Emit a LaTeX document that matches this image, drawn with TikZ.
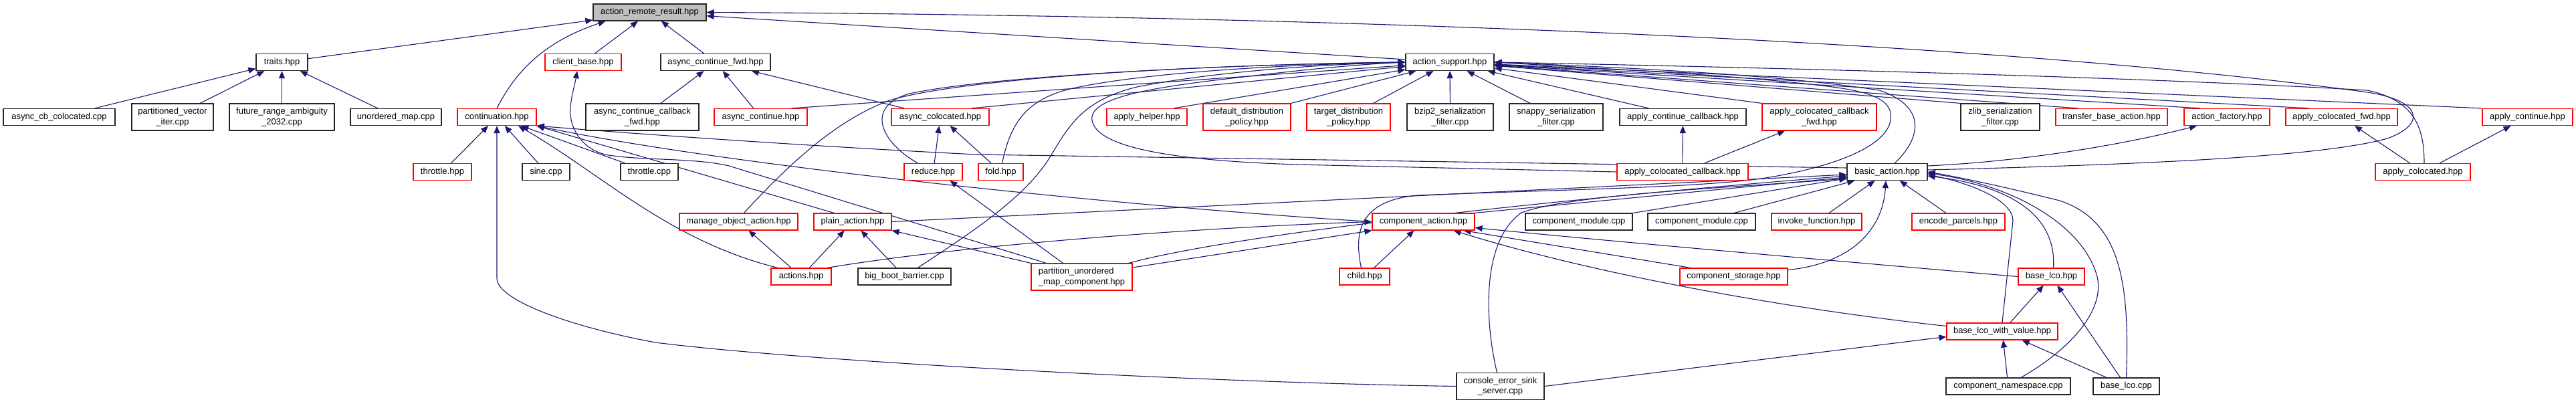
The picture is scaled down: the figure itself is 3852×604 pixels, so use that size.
\documentclass[tikz,border=0pt]{standalone}
\usepackage{fontspec}
\setmainfont{Liberation Sans}
\usetikzlibrary{arrows.meta}
\newcommand\nodefont{\fontsize{13}{15.5}\selectfont}
\definecolor{navy}{HTML}{191970}
\pgfdeclarelayer{bg}
\pgfsetlayers{bg,main}
\tikzset{
 nb/.style={draw=black!85, line width=1.2pt, rectangle, inner sep=0pt, minimum height=25pt, font=\nodefont, align=center, fill=white},
 rb/.style={nb, draw=red},
 two/.style={minimum height=40pt},
 edg/.style={draw=navy, line width=1.1pt, -{Triangle[length=11pt,width=9pt]}},
}
\begin{document}
\begin{tikzpicture}[x=1pt,y=-1pt]
\useasboundingbox (0,0) rectangle (3852,604);
% level 0
\node[nb, fill=black!25, minimum width=169pt] (arr) at (971.5,18.5) {action\_remote\_result.hpp};
% level 1
\node[nb, minimum width=77pt] (traits) at (421.5,93) {traits.hpp};
\node[rb, minimum width=114pt] (client) at (872,93) {client\_base.hpp};
\node[nb, minimum width=164pt] (acfwd) at (1070,93) {async\_continue\_fwd.hpp};
\node[nb, minimum width=132pt] (asup) at (2168,93) {action\_support.hpp};
% level 2
\node[nb, minimum width=167pt] (acbc) at (88.5,175) {async\_cb\_colocated.cpp};
\node[nb, two, minimum width=122pt] (pvi) at (258,175) {partitioned\_vector\\\_iter.cpp};
\node[nb, two, minimum width=157pt] (fra) at (421.5,175) {future\_range\_ambiguity\\\_2032.cpp};
\node[nb, minimum width=136pt] (umap) at (592,175) {unordered\_map.cpp};
\node[rb, minimum width=118pt] (cont) at (743,175) {continuation.hpp};
\node[nb, two, minimum width=169pt] (accfwd) at (960.5,175) {async\_continue\_callback\\\_fwd.hpp};
\node[rb, minimum width=139pt] (acont) at (1137.5,175) {async\_continue.hpp};
\node[rb, minimum width=146pt] (acol) at (1406,175) {async\_colocated.hpp};
\node[rb, minimum width=120pt] (ahelp) at (1715,175) {apply\_helper.hpp};
\node[rb, two, minimum width=131pt] (ddp) at (1864.5,175) {default\_distribution\\\_policy.hpp};
\node[rb, two, minimum width=125pt] (tdp) at (2016.5,175) {target\_distribution\\\_policy.hpp};
\node[nb, two, minimum width=129pt] (bzip) at (2168.5,175) {bzip2\_serialization\\\_filter.cpp};
\node[nb, two, minimum width=140pt] (snappy) at (2327,175) {snappy\_serialization\\\_filter.cpp};
\node[nb, minimum width=189pt] (acc) at (2516.5,175) {apply\_continue\_callback.hpp};
\node[rb, two, minimum width=171pt] (acocfwd) at (2720.5,175) {apply\_colocated\_callback\\\_fwd.hpp};
\node[nb, two, minimum width=118pt] (zlib) at (2991,175) {zlib\_serialization\\\_filter.cpp};
\node[rb, minimum width=167pt] (tba) at (3157.5,175) {transfer\_base\_action.hpp};
\node[rb, minimum width=128pt] (afact) at (3330,175) {action\_factory.hpp};
\node[rb, minimum width=167pt] (acofwd) at (3501.5,175) {apply\_colocated\_fwd.hpp};
\node[rb, minimum width=135pt] (apcont) at (3779.5,175) {apply\_continue.hpp};
% level 3
\node[rb, minimum width=87pt] (thhpp) at (661.5,257) {throttle.hpp};
\node[nb, minimum width=71pt] (sine) at (816.5,257) {sine.cpp};
\node[nb, minimum width=86pt] (thcpp) at (971,257) {throttle.cpp};
\node[rb, minimum width=87pt] (reduce) at (1395.5,257) {reduce.hpp};
\node[rb, minimum width=67pt] (fold) at (1496.5,257) {fold.hpp};
\node[rb, minimum width=196pt] (acoc) at (2516,257) {apply\_colocated\_callback.hpp};
\node[nb, minimum width=120pt] (bact) at (2822,257) {basic\_action.hpp};
\node[rb, minimum width=142pt] (apco) at (3623,257) {apply\_colocated.hpp};
% level 4
\node[rb, minimum width=177pt] (moa) at (1104.5,331.5) {manage\_object\_action.hpp};
\node[rb, minimum width=116pt] (plain) at (1275,331.5) {plain\_action.hpp};
\node[rb, minimum width=153pt] (compact) at (2128.5,331.5) {component\_action.hpp};
\node[nb, minimum width=160pt] (cm1) at (2361,331.5) {component\_module.cpp};
\node[nb, minimum width=161pt] (cm2) at (2544.5,331.5) {component\_module.cpp};
\node[rb, minimum width=135pt] (invf) at (2716.5,331.5) {invoke\_function.hpp};
\node[rb, minimum width=139pt] (encp) at (2928.5,331.5) {encode\_parcels.hpp};
% level 5
\node[rb, minimum width=90pt] (actions) at (1198,413.5) {actions.hpp};
\node[nb, minimum width=139pt] (bbb) at (1352.5,413.5) {big\_boot\_barrier.cpp};
\node[rb, two, minimum width=151pt, align=left] (pumc) at (1617.5,414) {partition\_unordered\\\_map\_component.hpp};
\node[rb, minimum width=75pt] (child) at (2040.5,413.5) {child.hpp};
\node[rb, minimum width=161pt] (cstor) at (2592.5,413.5) {component\_storage.hpp};
\node[rb, minimum width=99pt] (blco) at (3067.5,413.5) {base\_lco.hpp};
% level 6
\node[rb, minimum width=166pt] (blwv) at (2994,495.5) {base\_lco\_with\_value.hpp};
% level 7
\node[nb, two, minimum width=131pt] (cess) at (2243.5,577.5) {console\_error\_sink\\\_server.cpp};
\node[nb, minimum width=186pt] (cns) at (3003,577.5) {component\_namespace.cpp};
\node[nb, minimum width=99pt] (blcpp) at (3179.5,577.5) {base\_lco.cpp};

\begin{pgfonlayer}{bg}
% to action_remote_result
\draw[edg] (traits) -- (arr);
\draw[edg] (cont.north) .. controls (772,105) and (815,62) .. ([xshift=-66pt]arr.south);
\draw[edg] (client) -- (arr);
\draw[edg] (acfwd) -- (arr);
\draw[edg] (asup) -- (arr);
\draw[edg] ([yshift=3pt]bact.east) .. controls (3250,245) and (3480,232) .. (3570,207) .. controls (3630,185) and (3620,150) .. (3540,138) .. controls (2900,50) and (1800,22) .. (arr.east);
% to traits
\draw[edg] (acbc) -- (traits);
\draw[edg] (pvi) -- (traits);
\draw[edg] (fra) -- (traits);
\draw[edg] (umap) -- (traits);
% to client_base
\draw[edg] ([xshift=-53pt]pumc.north) -- (1090,248) .. controls (1040,236) and (960,240) .. (910,232) .. controls (870,225) and (850,190) .. (853,160) .. controls (855,140) and (860,125) .. ([xshift=-9pt]client.south);
% to async_continue_fwd
\draw[edg] (accfwd) -- (acfwd);
\draw[edg] (acont) -- (acfwd);
\draw[edg] (acol) -- (acfwd);
% to continuation
\draw[edg] (thhpp) -- (cont);
\draw[edg] (sine) -- (cont);
\draw[edg] (thcpp) -- (cont);
\draw[edg] (cess.west) .. controls (1800,572) and (1200,540) .. (980,512) .. controls (860,490) and (743,450) .. (743,416) -- (cont.south);
\draw[edg] ([xshift=-35pt]actions.north) .. controls (1000,360) and (900,260) .. ([xshift=32pt]cont.south);
\draw[edg] ([yshift=6pt]bact.west) -- (1460,231) .. controls (1200,218) and (950,200) .. (cont.south east);
\draw[edg] (compact.west) .. controls (1700,310) and (1100,250) .. (cont.south east);
\draw[edg] ([xshift=-28pt]plain.north) -- (cont.south east);
% to action_support, straight
\draw[edg] ([xshift=46pt]acont.north) -- (asup);
\draw[edg] ([xshift=47pt]acol.north) -- (asup);
\draw[edg] ([xshift=40pt]ahelp.north) -- (asup);
\draw[edg] (ddp.north east) -- (asup);
\draw[edg] ([xshift=37pt]tdp.north) -- (asup);
\draw[edg] (bzip) -- (asup);
\draw[edg] ([xshift=-39pt]snappy.north) -- (asup);
\draw[edg] ([xshift=-51pt]acc.north) -- (asup);
\draw[edg] (acocfwd.north west) -- (asup);
\draw[edg] (zlib.north west) -- (asup);
\draw[edg] ([xshift=-50pt]tba.north) -- (asup);
\draw[edg] ([xshift=-40pt]afact.north) -- (asup);
\draw[edg] ([xshift=-49pt]acofwd.north) -- (asup);
\draw[edg] (apcont.north west) -- (asup);
% to action_support, curved
\draw[edg] ([xshift=-23pt]reduce.north) .. controls (1320,215) and (1290,160) .. (1360,140) .. controls (1500,110) and (1900,95) .. (asup.west);
\draw[edg] ([xshift=2pt]fold.north) .. controls (1510,190) and (1530,150) .. (1600,133) .. controls (1700,110) and (1900,97) .. (asup.west);
\draw[edg] ([xshift=8pt]moa.north) .. controls (1180,245) and (1250,180) .. (1330,150) .. controls (1450,115) and (1800,97) .. (asup.west);
\draw[edg] ([xshift=20pt]bbb.north) .. controls (1440,355) and (1530,300) .. (1570,235) .. controls (1600,185) and (1620,150) .. (1700,130) .. controls (1800,110) and (1950,97) .. (asup.west);
\draw[edg] (acoc.west) -- (1940,246) .. controls (1750,240) and (1640,220) .. (1633,180) .. controls (1628,150) and (1700,135) .. (1800,122) .. controls (1900,110) and (2000,98) .. (asup.west);
\draw[edg] ([xshift=-5pt]child.north) .. controls (2025,350) and (2030,300) .. (2120,292) .. controls (2350,283) and (2550,280) .. (2640,266) .. controls (2740,250) and (2820,220) .. (2827,180) .. controls (2832,150) and (2800,138) .. (2740,130) .. controls (2600,112) and (2400,103) .. (asup.east);
\draw[edg] ([xshift=11pt]bact.north) .. controls (2870,210) and (2885,160) .. (2810,135) .. controls (2650,110) and (2400,100) .. (asup.east);
\draw[edg] ([xshift=2pt]apco.north) .. controls (3625,190) and (3610,150) .. (3540,135) .. controls (3200,115) and (2600,100) .. (asup.east);
% to action_factory
\draw[edg] ([yshift=9pt]bact.east) .. controls (3050,240) and (3200,210) .. ([xshift=-45pt]afact.south);
% to basic_action
\draw[edg] (compact.north east) -- ([yshift=-8pt]bact.west);
\draw[edg] (plain.east) -- ([yshift=-4pt]bact.west);
\draw[edg] ([xshift=70pt]pumc.north) .. controls (1850,350) and (2300,300) .. ([yshift=-6pt]bact.west);
\draw[edg] ([xshift=-5pt]cess.north) .. controls (2220,480) and (2215,360) .. (2275,318) .. controls (2350,290) and (2600,280) .. ([yshift=-10pt]bact.west);
\draw[edg] (cm1) -- (bact);
\draw[edg] (cm2) -- (bact);
\draw[edg] (invf) -- (bact);
\draw[edg] (encp) -- (bact);
\draw[edg] ([yshift=10pt]cstor.east) .. controls (2760,395) and (2815,350) .. ([xshift=-2pt]bact.south);
\draw[edg] ([xshift=3pt]blco.north) .. controls (3075,330) and (3020,280) .. ([yshift=-6pt]bact.east);
\draw[edg] (blwv.north) -- (3010,330) .. controls (3010,300) and (2950,275) .. ([yshift=-4pt]bact.east);
\draw[edg] ([xshift=19pt]cns.north) .. controls (3100,520) and (3150,460) .. (3135,410) .. controls (3110,330) and (3000,275) .. ([yshift=-2pt]bact.east);
\draw[edg] (blcpp.north) .. controls (3185,420) and (3170,330) .. (3080,300) .. controls (3000,280) and (2930,265) .. (bact.east);
% to component_action
\draw[edg] (child) -- (compact);
\draw[edg] ([xshift=39pt]actions.north) .. controls (1450,365) and (1800,340) .. (compact.west);
\draw[edg] ([yshift=14pt]pumc.east) -- (compact.south west);
\draw[edg] ([xshift=-65pt]cstor.north) -- ([xshift=60pt]compact.south);
\draw[edg] (blco.west) .. controls (2800,395) and (2400,360) .. ([yshift=-9pt]compact.east);
\draw[edg] ([yshift=8pt]blwv.west) .. controls (2700,465) and (2400,415) .. ([xshift=45pt]compact.south);
% to base_lco_with_value
\draw[edg] (cess.east) -- ([yshift=-8pt]blwv.west);
\draw[edg] (cns) -- (blwv);
\draw[edg] (blcpp) -- (blwv);
% to base_lco
\draw[edg] (blwv) -- (blco);
\draw[edg] (blcpp) -- (blco);
% to async_colocated
\draw[edg] (reduce) -- (acol);
\draw[edg] (fold) -- (acol);
% to plain_action, manage_object_action, reduce
\draw[edg] (actions) -- (plain);
\draw[edg] (bbb) -- (plain);
\draw[edg] (pumc.north west) -- (plain.south east);
\draw[edg] (actions) -- (moa);
\draw[edg] ([xshift=-28pt]pumc.north) -- ([xshift=25pt]reduce.south);
% apply_colocated
\draw[edg] (apco) -- (acofwd);
\draw[edg] (apco) -- (apcont);
% apply_colocated_callback
\draw[edg] (acoc) -- (acc);
\draw[edg] (acoc) -- (acocfwd);
\end{pgfonlayer}
\end{tikzpicture}
\end{document}
